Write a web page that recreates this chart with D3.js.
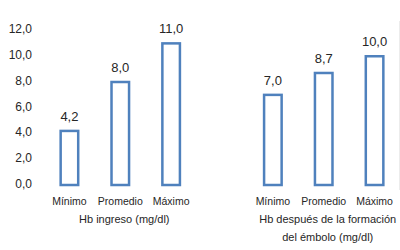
<!DOCTYPE html>
<html>
<head>
<meta charset="utf-8">
<script src="https://cdn.jsdelivr.net/npm/d3@7"></script>
<style>
  body { margin: 0; background: #fff; }
  text { font-family: "Liberation Sans", Arial, sans-serif; fill: #262626; }
</style>
</head>
<body>
<svg id="chart" width="400" height="250"></svg>
<script>
// datos
const groups = ["Hb ingreso (mg/dl)", "Hb después de la formación del émbolo (mg/dl)"];
const groupLines = [["Hb ingreso (mg/dl)"], ["Hb después de la formación", "del émbolo (mg/dl)"]];
const categories = ["Mínimo", "Promedio", "Máximo"];
const valuesIngreso = [4.2, 8.0, 11.0];
const valuesEmbolo = [7.0, 8.7, 10.0];
const yTicks = [0, 2, 4, 6, 8, 10, 12];

(function renderChart() {
  const svg = d3.select("#chart");
  const fmt = d => d.toFixed(1).replace(".", ",");

  // slots: 3 categorias, hueco, 3 categorias
  const rows = [];
  [valuesIngreso, valuesEmbolo].forEach((vals, gi) => {
    if (gi > 0) rows.push({ key: "gap" + gi, gap: true });
    vals.forEach((v, i) => rows.push({ key: gi + "-" + i, group: gi, cat: categories[i], value: v }));
  });
  const bars = rows.filter(d => !d.gap);

  const x = d3.scaleBand().domain(rows.map(d => d.key)).range([44, 400]).padding(0);
  const y = d3.scaleLinear().domain([0, 12]).range([185, 30.5]);
  const barW = x.bandwidth() * 0.345;

  // eje y (solo etiquetas)
  const yAxis = svg.append("g")
    .attr("transform", "translate(32,0)")
    .call(d3.axisLeft(y).tickValues(yTicks).tickFormat(fmt).tickSize(0).tickPadding(0));
  yAxis.select(".domain").remove();
  yAxis.selectAll("text")
    .attr("font-size", 12)
    .attr("font-family", "Liberation Sans, Arial, sans-serif")
    .attr("fill", "#262626")
    .attr("dy", "0.2em");

  // borde derecho tenue
  svg.append("line")
    .attr("x1", 399.5).attr("x2", 399.5)
    .attr("y1", 21).attr("y2", 190)
    .attr("stroke", "#ececec").attr("stroke-width", 1);

  // barras
  svg.selectAll("rect.bar")
    .data(bars)
    .enter()
    .append("rect")
    .attr("class", "bar")
    .attr("x", d => x(d.key) + (x.bandwidth() - barW) / 2)
    .attr("y", d => y(d.value))
    .attr("width", barW)
    .attr("height", d => y(0) - y(d.value))
    .attr("fill", "#fff")
    .attr("stroke", "#4f81bd")
    .attr("stroke-width", 2.5);

  // etiquetas de datos
  svg.selectAll("text.val")
    .data(bars)
    .enter()
    .append("text")
    .attr("class", "val")
    .attr("x", d => x(d.key) + x.bandwidth() / 2)
    .attr("y", d => y(d.value) - 10)
    .attr("text-anchor", "middle")
    .attr("font-size", 13)
    .text(d => fmt(d.value));

  // categorias
  svg.selectAll("text.cat")
    .data(bars)
    .enter()
    .append("text")
    .attr("class", "cat")
    .attr("x", d => x(d.key) + x.bandwidth() / 2)
    .attr("y", 205)
    .attr("text-anchor", "middle")
    .attr("font-size", 10.5)
    .text(d => d.cat);

  // grupos
  groups.forEach((g, gi) => {
    const keys = bars.filter(d => d.group === gi).map(d => d.key);
    const cx = (x(keys[0]) + x(keys[keys.length - 1]) + x.bandwidth()) / 2 + 4;
    const t = svg.append("text")
      .attr("x", cx)
      .attr("y", 222.5)
      .attr("text-anchor", "middle")
      .attr("font-size", 11);
    groupLines[gi].forEach((line, li) => {
      t.append("tspan").attr("x", cx).attr("dy", li === 0 ? 0 : 18.5).text(line);
    });
  });
})();
</script>
</body>
</html>
